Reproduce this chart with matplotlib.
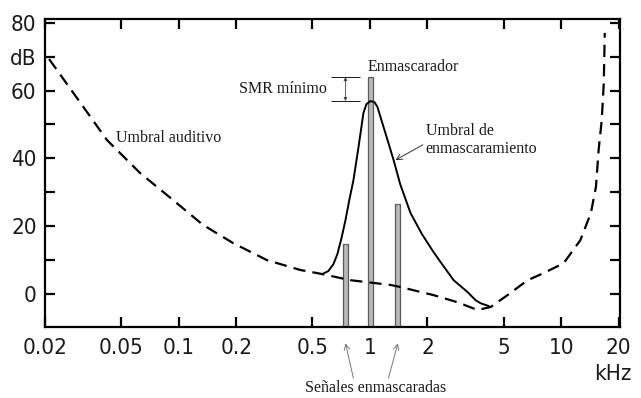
import numpy as np
import matplotlib
matplotlib.use("Agg")
import matplotlib.pyplot as plt
from matplotlib import font_manager

# Umbral auditivo (umbral absoluto en silencio), kHz / dB
quiet_f = [0.021, 0.0294, 0.0422, 0.0628, 0.0936, 0.134, 0.193, 0.29, 0.433, 0.564,
           0.79, 1.28, 1.44, 2.15, 2.87, 3.65, 4.28, 5.24, 6.68, 8.1, 10.3, 12.6,
           14.3, 15.2, 15.7, 16.3, 16.7, 16.9]
quiet_db = [69.3, 57.8, 45.4, 35.7, 27.7, 20.4, 15.0, 10.0, 7.1, 5.9,
            4.1, 2.7, 2.1, -0.3, -2.4, -4.7, -3.8, -0.3, 4.1, 6.2, 9.1, 15.9,
            23.9, 31.6, 42.5, 51.3, 62.2, 77.0]

# Umbral de enmascaramiento producido por el tono de 1 kHz
mask_f = [0.564, 0.606, 0.644, 0.676, 0.71, 0.745, 0.78, 0.82, 0.872, 0.925, 0.959,
          1.006, 1.056, 1.094, 1.20, 1.33, 1.44, 1.63, 1.87, 2.15, 2.42, 2.74,
          3.24, 3.57, 3.79, 4.17]
mask_db = [5.9, 6.8, 8.8, 11.8, 16.5, 21.8, 27.7, 33.6, 43.4, 53.4, 56.0,
           56.9, 56.6, 55.2, 47.8, 39.5, 32.4, 23.9, 17.7, 12.4, 8.3, 4.1,
           0.6, -1.8, -2.7, -3.5]

# Tonos: enmascarador (1 kHz) y dos señales enmascaradas
tone_f = [0.745, 1.01, 1.40]
tone_db = [14.7, 64.0, 26.5]

xticks = [0.02, 0.05, 0.1, 0.2, 0.5, 1, 2, 5, 10, 20]
xticklabels = ["0.02", "0.05", "0.1", "0.2", "0.5", "1", "2", "5", "10", "20"]
yticks = [0, 10, 20, 30, 40, 50, 60, 70, 80]
yticklabels = ["0", "", "20", "", "40", "", "60", "dB", "80"]

# fuente estrecha para los numeros de los ejes, si hay alguna instalada
tick_prop = font_manager.FontProperties(family="Liberation Sans", size=14.5)
for fe in font_manager.fontManager.ttflist:
    if fe.name in ("Liberation Sans Narrow", "DejaVu Sans") and \
            fe.stretch == "condensed" or fe.name == "Liberation Sans Narrow":
        if fe.style == "normal" and fe.weight in (400, "normal", "regular"):
            tick_prop = font_manager.FontProperties(fname=fe.fname, size=16)
            break

text_font = ["Liberation Serif", "DejaVu Serif"]
ink = "#1a1a1a"

fig = plt.figure(figsize=(6.41, 3.98), dpi=100)
ax = fig.add_axes([0.0702, 0.1784, 0.8970, 0.7739])
ax.set_xscale("log")
ylo, yhi = -9.7, 81.1
ax.set(xlim=(0.02, 20.3), ylim=(ylo, yhi))

# tonos como barras estrechas (ancho constante en escala log)
half = 0.013
left = [f * 10 ** -half for f in tone_f]
width = [f * (10 ** half - 10 ** -half) for f in tone_f]
ax.bar(left, [d - ylo for d in tone_db], width=width, bottom=ylo, align="edge",
       color="#b8b8b8", edgecolor="#5a5a5a", linewidth=0.9, zorder=2)

ax.plot(quiet_f, quiet_db, color="black", linewidth=1.6, dashes=(5.5, 3.2), zorder=3)
ax.plot(mask_f, mask_db, color="black", linewidth=1.4, zorder=3,
        solid_joinstyle="round")

# SMR minimo: distancia entre el enmascarador y el pico del umbral
peak = max(mask_db)
ax.hlines([tone_db[1], peak], 0.629, 0.884, color=ink, linewidth=0.7, zorder=4)
ax.annotate("", xy=(0.745, peak), xytext=(0.745, tone_db[1]),
            arrowprops=dict(arrowstyle="<|-|>", lw=0.6, color="#444444",
                            mutation_scale=5, shrinkA=0, shrinkB=0))
ax.text(0.599, (peak + tone_db[1]) / 2, "SMR mínimo", ha="right", va="center",
        fontsize=11.5, family=text_font, color=ink)

ax.text(0.97, 67.0, "Enmascarador", ha="left", va="center",
        fontsize=11.5, family=text_font, color=ink)
ax.text(0.0471, 46.0, "Umbral auditivo", ha="left", va="center",
        fontsize=11.5, family=text_font, color=ink)
ax.text(1.96, 45.4, "Umbral de\nenmascaramiento", ha="left", va="center",
        fontsize=11.5, family=text_font, color=ink, linespacing=1.15)
ax.annotate("", xy=(1.36, 39.5), xytext=(1.89, 44.0),
            arrowprops=dict(arrowstyle="->", lw=0.7, color="#333333",
                            mutation_scale=10, shrinkA=0, shrinkB=0))

# señales enmascaradas, rotulo bajo el eje
ax.text(1.07, -27.7, "Señales enmascaradas", ha="center", va="center",
        fontsize=11.5, family=text_font, color=ink, clip_on=False)
for f_from, f_to in [(0.82, tone_f[0]), (1.25, tone_f[2])]:
    ax.annotate("", xy=(f_to, -14.5), xytext=(f_from, -24.8),
                annotation_clip=False,
                arrowprops=dict(arrowstyle="->", lw=0.7, color="#777777",
                                mutation_scale=10, shrinkA=0, shrinkB=0))

ax.text(18.6, -23.5, "kHz", ha="center", va="center", fontproperties=tick_prop,
        color=ink, clip_on=False)

ax.set_xticks(xticks)
ax.set_xticklabels(xticklabels)
ax.xaxis.set_minor_locator(matplotlib.ticker.NullLocator())
ax.set_yticks(yticks)
ax.set_yticklabels(yticklabels)
for lab in ax.get_xticklabels() + ax.get_yticklabels():
    lab.set_fontproperties(tick_prop)
    lab.set_color(ink)

ax.tick_params(direction="in", length=7, width=1.6, top=True, right=True, color="black")
ax.tick_params(axis="x", pad=8)
ax.tick_params(axis="y", pad=6)
for s in ax.spines.values():
    s.set_linewidth(1.6)

fig.savefig("out.png", dpi=100)
